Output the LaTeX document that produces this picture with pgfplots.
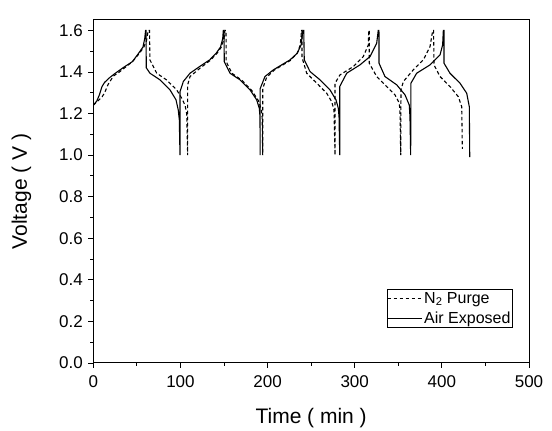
\documentclass[border=0pt]{standalone}
\usepackage{pgfplots}
\pgfplotsset{compat=1.18}
\usepackage{fontspec}
\setmainfont{Liberation Sans}
\begin{document}
\begin{tikzpicture}
\begin{axis}[
  scale only axis,
  width=435.7pt, height=343pt,
  xmin=0, xmax=500, ymin=0, ymax=1.65,
  xtick={0,100,...,500},
  ytick={0,0.2,...,1.6},
  minor x tick num=1, minor y tick num=1,
  tick align=outside,
  xtick pos=bottom, ytick pos=left,
  major tick length=5pt, minor tick length=3pt,
  axis line style={line width=1pt},
  every tick/.style={black, line width=0.9pt},
  /pgf/number format/assume math mode=true,
  yticklabel style={/pgf/number format/.cd, fixed, fixed zerofill, precision=1},
  ticklabel style={font=\fontsize{17}{20}\selectfont},
  xticklabel shift=4pt, yticklabel shift=2pt,
  xlabel={Time ( min )}, ylabel={Voltage ( V )},
  every axis x label/.style={at={(axis description cs:0.5,-0.16)}, anchor=center, font=\fontsize{21}{24}\selectfont},
  every axis y label/.style={at={(axis description cs:-0.165,0.5)}, anchor=center, rotate=90, font=\fontsize{21}{24}\selectfont},
  legend style={at={(rel axis cs:0.963,0.102)}, anchor=south east,
    font=\fontsize{16}{19}\selectfont, draw=black, line width=0.8pt,
    inner xsep=0pt, inner ysep=1pt, row sep=3pt,
    /tikz/every even column/.append style={column sep=0pt}},
  legend cell align=left,
  legend image code/.code={\draw[#1] (0pt,0pt) -- (34pt,0pt);},
]
\addplot[black, line width=1.1pt, dash pattern=on 3.5pt off 2.5pt] coordinates {
(0,1.24)(5,1.26)(10,1.28)(13,1.30)(17,1.34)(23,1.38)(30,1.40)(45,1.45)(53,1.49)(58,1.52)(61,1.55)(63,1.60)
(64.5,1.60)(65,1.458)(72.8,1.394)(84,1.362)(95.7,1.314)(101.4,1.274)(105.2,1.241)(107.2,1.20)(108.3,1.0)
(108.3,1.338)(111,1.378)(122.4,1.418)(134,1.455)(142,1.49)(147,1.52)(150,1.56)(151,1.60)
(152.3,1.60)(152.5,1.45)(159,1.394)(170.5,1.36)(182,1.31)(189.5,1.262)(192.8,1.22)(193.8,1.18)(194.4,1.0)
(194.4,1.32)(199,1.375)(208,1.41)(226,1.455)(234,1.49)(237.5,1.53)(239,1.60)
(239.5,1.60)(239.5,1.47)(244.9,1.394)(256.4,1.346)(267.8,1.298)(273.6,1.257)(276.2,1.217)(277.4,1.0)
(277.4,1.346)(283.1,1.386)(298.4,1.426)(309.8,1.474)(315.6,1.53)(316,1.60)
(316.7,1.60)(316.7,1.442)(325.2,1.378)(336.7,1.33)(346.2,1.29)(351.2,1.25)(352,1.20)(352.8,1.0)
(353.1,1.314)(355.8,1.354)(367.2,1.41)(378.7,1.458)(386.4,1.522)(389.5,1.60)
(390.5,1.60)(391,1.434)(397.9,1.378)(409.3,1.33)(418.9,1.281)(422.8,1.233)(423.5,1.03)
};
\addlegendentry{N\textsubscript{2} Purge}
\addplot[black, line width=1.1pt] coordinates {
(0,1.24)(4,1.26)(7,1.29)(10,1.33)(13,1.35)(18,1.37)(24,1.39)(34,1.42)(45,1.45)(52,1.49)(57,1.52)(59,1.56)(60,1.60)
(60.5,1.60)(60.8,1.42)(65,1.394)(76.5,1.362)(88,1.314)(94.9,1.266)(97.5,1.217)(98.7,1.17)(99.5,1.0)
(99.5,1.305)(103.3,1.354)(111,1.394)(122,1.426)(133.5,1.458)(141,1.49)(146,1.52)(148.5,1.56)(149.2,1.60)
(150,1.60)(150.3,1.45)(156.9,1.394)(168.4,1.362)(179.8,1.314)(187.5,1.266)(190.5,1.225)(191.3,1.185)(191.5,1.0)
(191.5,1.32)(197,1.378)(206.6,1.41)(225.7,1.458)(234,1.49)(238.5,1.53)(240.5,1.60)
(241.5,1.60)(242.1,1.458)(248.7,1.402)(260.2,1.362)(271.6,1.314)(278.5,1.266)(281.2,1.225)(282,1.185)(282.8,1.0)
(282.8,1.33)(290.8,1.394)(306,1.434)(317.5,1.474)(325.2,1.538)(327,1.60)
(327.8,1.60)(327.9,1.442)(334.7,1.378)(348.2,1.338)(357.7,1.29)(362.6,1.241)(363.4,1.185)(364.2,1.0)
(364.5,1.346)(371.1,1.394)(386.4,1.434)(397.9,1.482)(400.9,1.53)(401.7,1.60)
(402.5,1.60)(402.5,1.442)(409.3,1.394)(420.8,1.346)(428.5,1.298)(431.5,1.233)(432,0.99)
};
\addlegendentry{Air Exposed}
\end{axis}
\path (-93.3pt,-68pt) rectangle (458.7pt,363pt);
\end{tikzpicture}
\end{document}
